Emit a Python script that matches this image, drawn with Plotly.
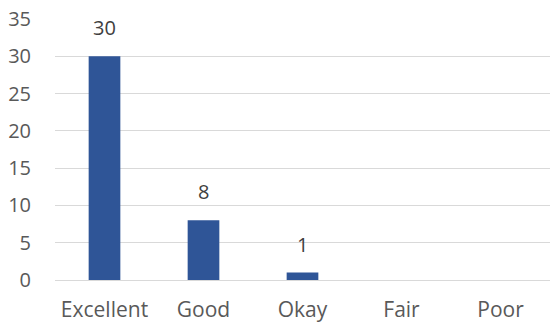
import plotly.graph_objects as go

categories = ["Excellent", "Good", "Okay", "Fair", "Poor"]
values = [30, 8, 1, 0, 0]
labels = ["30", "8", "1", "", ""]
y_ticks = [0, 5, 10, 15, 20, 25, 30, 35]

fig = go.Figure(go.Bar(
    x=categories, y=values, width=0.32,
    marker=dict(color="#2F5597", line=dict(width=0)),
))
for c, v, t in zip(categories, values, labels):
    if t:
        fig.add_annotation(x=c, y=v, text=t, showarrow=False, yanchor="bottom", yshift=13,
                           font=dict(size=20, color="#404040", family="Open Sans"))
fig.update_layout(
    width=550, height=323,
    margin=dict(l=55, r=0, t=19, b=43),
    paper_bgcolor="white", plot_bgcolor="white",
    showlegend=False,
    font=dict(family="Open Sans", size=20, color="#595959"),
)
fig.update_yaxes(range=[0, 35], tickvals=y_ticks, showgrid=True, gridcolor="#D9D9D9",
                 gridwidth=1, zeroline=True, zerolinecolor="#D9D9D9", zerolinewidth=1,
                 ticks="", ticklabelstandoff=23, automargin=False, tickfont=dict(size=20))
fig.update_xaxes(showline=False, ticks="", tickfont=dict(size=21), ticklabelstandoff=15,
                 automargin=False)
fig.write_html("out.html", config={"displayModeBar": False},
               post_script="document.body.style.margin='0';document.body.style.overflow='hidden';")
